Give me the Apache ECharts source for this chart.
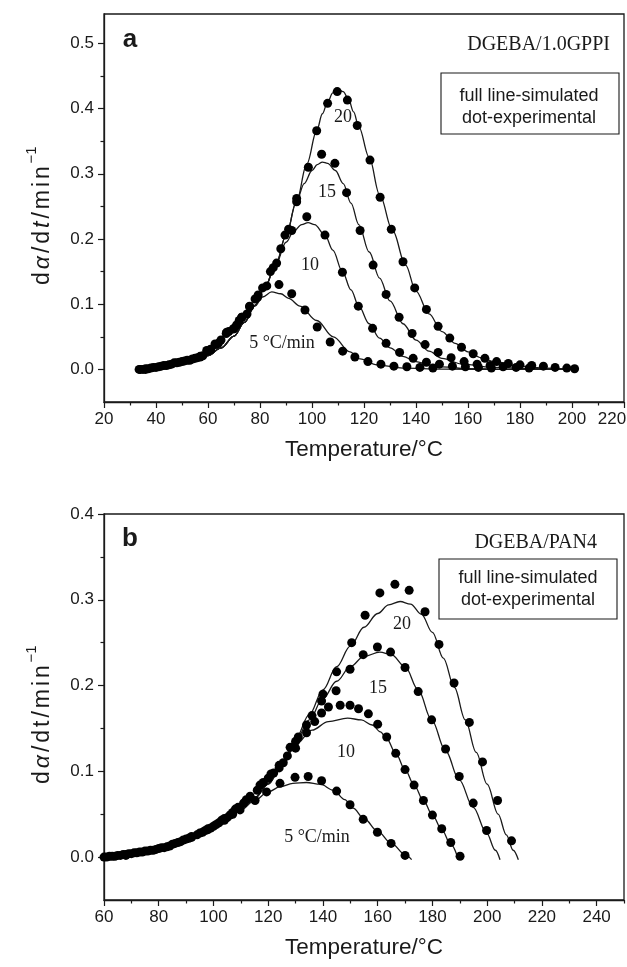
<!DOCTYPE html>
<html><head><meta charset="utf-8">
<script src="https://cdn.jsdelivr.net/npm/echarts@6/dist/echarts.min.js"></script>
<style>html,body{margin:0;padding:0;background:#fff}#c{width:627px;height:967px}</style>
</head><body><div id="c"></div>
<script>
// ---------- Panel a : DGEBA/1.0GPPI ----------
const xTicksA = [20,40,60,80,100,120,140,160,180,200,220];
const xMinorA = [30,50,70,90,110,130,150,170,190,210];
const yTicksA = [0,0.1,0.2,0.3,0.4,0.5];
const yMinorA = [0.05,0.15,0.25,0.35,0.45];

const simA5 = [[33,0],[40,0.003],[50,0.009],[60,0.021],[65,0.033],[70,0.051],[74,0.072],[78,0.097],[81,0.111],[84.5,0.119],[88,0.116],[91,0.109],[95.4,0.097],[101.8,0.075],[108.2,0.05],[114.6,0.027],[118.5,0.016],[125,0.007],[135,0.002],[150,0.0005],[175,0],[200,0]];
const simA10 = [[33,0],[40,0.003],[50,0.009],[60,0.021],[65,0.033],[70,0.051],[74,0.072],[78,0.098],[82,0.127],[86,0.160],[90,0.195],[93,0.212],[96,0.222],[98.5,0.225],[101,0.222],[105,0.206],[108,0.183],[111.7,0.150],[115,0.122],[118,0.097],[122,0.070],[126,0.048],[130,0.033],[135,0.020],[140,0.012],[145,0.007],[150,0.004],[160,0.001],[180,0],[200,0]];
const simA15 = [[33,0],[40,0.003],[50,0.009],[60,0.021],[65,0.033],[70,0.051],[74,0.072],[78,0.098],[82,0.127],[86,0.160],[90,0.205],[94,0.257],[97,0.285],[100,0.305],[102,0.314],[104,0.318],[106,0.316],[109,0.305],[112,0.285],[115,0.255],[118,0.222],[122,0.180],[126,0.140],[130,0.105],[135,0.070],[140,0.045],[145,0.028],[150,0.017],[158,0.008],[170,0.003],[185,0.001],[200,0]];
const simA20 = [[33,0],[40,0.003],[50,0.009],[60,0.021],[65,0.033],[70,0.051],[74,0.072],[78,0.098],[82,0.127],[86,0.160],[90,0.205],[94,0.257],[98,0.315],[101.8,0.366],[104,0.392],[106,0.410],[108,0.424],[110,0.429],[112,0.426],[114,0.415],[116,0.395],[118,0.372],[122,0.325],[126,0.268],[131,0.213],[136,0.160],[140,0.120],[145,0.085],[150,0.058],[155,0.040],[160,0.027],[165,0.018],[170,0.012],[180,0.005],[190,0.002],[200,0]];

const expA5 = [[33.5,0],[36,0],[39,0.003],[43,0.006],[46,0.008],[49,0.011],[52,0.014],[55,0.017],[58,0.021],[61,0.030],[64,0.040],[67,0.055],[70,0.063],[73,0.080],[76,0.096],[79,0.110],[82.6,0.128],[87.3,0.130],[92.2,0.116],[97.3,0.091],[102,0.065],[107,0.042],[111.8,0.028],[116.5,0.019],[121.5,0.012],[126.5,0.008],[131.5,0.005],[136.5,0.004],[141.5,0.003],[146.5,0.002]];
const expA10 = [[34,0],[37,0.001],[41,0.004],[45,0.007],[50,0.012],[54,0.016],[57,0.020],[60,0.028],[63,0.038],[68,0.058],[72,0.075],[76,0.097],[79.3,0.114],[85.1,0.156],[89.6,0.206],[92.2,0.213],[98,0.234],[105,0.206],[111.7,0.149],[117.8,0.097],[123.3,0.063],[128.5,0.040],[133.7,0.026],[138.9,0.017],[144,0.011],[149,0.008],[154,0.005],[159,0.004],[164,0.003],[169,0.002]];
const expA15 = [[35,0],[38,0.002],[42,0.005],[47,0.010],[51,0.013],[56,0.018],[59.5,0.029],[62.7,0.039],[67.2,0.057],[69.7,0.062],[73,0.080],[78.1,0.108],[86.4,0.163],[94.1,0.257],[98.6,0.310],[103.7,0.330],[108.8,0.316],[113.3,0.271],[118.5,0.213],[123.5,0.160],[128.5,0.115],[133.5,0.080],[138.5,0.055],[143.5,0.038],[148.5,0.026],[153.5,0.018],[158.5,0.012],[163.5,0.008],[168.5,0.006],[173.5,0.004],[178.5,0.003],[183.5,0.002]];
const expA20 = [[36,0.001],[40,0.003],[44,0.006],[48,0.010],[53,0.014],[57,0.019],[61,0.031],[65,0.045],[71,0.068],[75,0.085],[81,0.125],[84,0.150],[88,0.185],[91,0.215],[94.1,0.262],[101.8,0.366],[106,0.408],[109.7,0.426],[113.6,0.413],[117.4,0.374],[122.3,0.321],[126.2,0.264],[130.5,0.215],[135,0.165],[139.5,0.125],[144,0.092],[148.5,0.066],[153,0.048],[157.5,0.034],[162,0.024],[166.5,0.017],[171,0.012],[175.5,0.009],[180,0.007],[184.5,0.006],[189,0.005],[193.5,0.003],[198,0.002],[201,0.001]];

// ---------- Panel b : DGEBA/PAN4 ----------
const xTicksB = [60,80,100,120,140,160,180,200,220,240];
const xMinorB = [70,90,110,130,150,170,190,210,230,250];
const yTicksB = [0,0.1,0.2,0.3,0.4];
const yMinorB = [0.05,0.15,0.25,0.35];

const simB5 = [[60,0],[65,0.001],[70,0.003],[75,0.006],[80,0.009],[85,0.013],[90,0.019],[95,0.026],[100,0.034],[105,0.044],[110,0.055],[115,0.066],[120,0.076],[124.3,0.082],[129,0.086],[134,0.087],[139,0.085],[143.8,0.078],[148,0.067],[151,0.057],[155,0.045],[160,0.030],[165,0.016],[170,0.003],[172.4,-0.003]];
const simB10 = [[60,0],[65,0.001],[70,0.003],[75,0.006],[80,0.009],[85,0.013],[90,0.019],[95,0.026],[100,0.034],[105,0.044],[110,0.056],[115,0.068],[120,0.085],[125,0.106],[130,0.131],[136,0.148],[142,0.158],[149,0.162],[154,0.160],[158,0.154],[161,0.146],[163.3,0.138],[166.6,0.121],[170,0.102],[173.3,0.084],[176.7,0.066],[180,0.049],[183.4,0.032],[186.7,0.015],[189.5,-0.003]];
const simB15 = [[60,0],[65,0.001],[70,0.003],[75,0.006],[80,0.009],[85,0.013],[90,0.019],[95,0.026],[100,0.034],[105,0.044],[110,0.056],[115,0.069],[120,0.085],[125,0.108],[130,0.135],[135,0.160],[140,0.185],[145,0.205],[150,0.222],[155,0.234],[160.8,0.239],[165,0.236],[170,0.222],[174.8,0.195],[179.7,0.160],[184.8,0.124],[189.8,0.090],[194.9,0.058],[199.8,0.028],[203,0.008],[204.7,-0.003]];
const simB20 = [[60,0],[65,0.001],[70,0.003],[75,0.006],[80,0.009],[85,0.013],[90,0.019],[95,0.026],[100,0.034],[105,0.044],[110,0.056],[115,0.069],[120,0.086],[125,0.110],[130,0.138],[135,0.166],[140,0.195],[145,0.222],[150,0.246],[155,0.268],[160,0.284],[164,0.294],[168.2,0.298],[172,0.295],[176,0.283],[180,0.262],[184,0.232],[188,0.198],[192,0.160],[196,0.122],[200,0.085],[204,0.050],[207,0.026],[209.5,0.008],[211.4,-0.003]];

const expB5 = [[61,0],[63,0.001],[65,0.002],[68,0.003],[71,0.005],[74,0.006],[77,0.008],[80,0.010],[83,0.012],[86,0.016],[89,0.020],[92,0.024],[95,0.028],[98,0.033],[101,0.038],[104,0.045],[107,0.050],[109.7,0.055],[115.2,0.066],[119.4,0.076],[124.3,0.086],[129.8,0.093],[134.6,0.094],[139.5,0.089],[145,0.077],[149.9,0.061],[154.7,0.044],[159.9,0.029],[164.9,0.016],[170,0.002]];
const expB10 = [[62,0.001],[66,0.002],[69,0.004],[72,0.005],[76,0.007],[79,0.009],[84,0.013],[87,0.017],[90,0.021],[94,0.026],[97,0.031],[100,0.036],[103,0.043],[106,0.049],[109,0.058],[113.4,0.071],[118.2,0.087],[122,0.098],[125.5,0.110],[130,0.127],[134,0.145],[137,0.158],[139.5,0.168],[142,0.175],[146.3,0.177],[149.9,0.177],[153,0.173],[156.6,0.167],[160,0.155],[163.3,0.140],[166.6,0.121],[170,0.102],[173.3,0.084],[176.7,0.066],[180,0.049],[183.4,0.033],[186.7,0.017],[190.1,0.001]];
const expB15 = [[64,0.001],[67,0.003],[70,0.004],[73,0.006],[78,0.008],[82,0.011],[88,0.018],[91,0.022],[96,0.029],[99,0.034],[102,0.040],[105,0.046],[108,0.056],[111,0.063],[116,0.078],[120,0.092],[124,0.104],[127,0.118],[130,0.135],[134,0.154],[139.5,0.182],[144.8,0.194],[149.9,0.219],[154.7,0.236],[159.9,0.245],[164.7,0.239],[170,0.221],[174.8,0.193],[179.7,0.160],[184.8,0.126],[189.8,0.094],[194.9,0.063],[199.8,0.031]];
const expB20 = [[60,0],[68,0.002],[75,0.007],[81,0.011],[85,0.015],[92,0.023],[98,0.032],[104,0.043],[107,0.052],[112,0.067],[117,0.084],[121,0.097],[124,0.107],[128,0.128],[131,0.140],[136,0.165],[140,0.190],[145,0.216],[150.5,0.250],[155.4,0.282],[160.8,0.308],[166.3,0.318],[171.5,0.311],[177.3,0.286],[182.4,0.248],[187.9,0.203],[193.5,0.157],[198.3,0.111],[203.8,0.066],[208.9,0.019]];

const INK = '#1a1a1a';
const SANS = '"Liberation Sans", Arial, sans-serif';
const SERIF = '"Liberation Serif", "Times New Roman", serif';

function xAxes(gi, min, max, major, minor, name) {
  return [
    {type:'value', gridIndex:gi, min:min, max:max, position:'bottom',
     axisLine:{show:true, onZero:false, lineStyle:{color:INK, width:1.3}},
     axisTick:{show:true, inside:false, length:6, customValues:major, lineStyle:{color:INK, width:1.2}},
     axisLabel:{customValues:major, fontFamily:SANS, fontSize:17, color:INK, margin:9,
                formatter:v => (v === max ? '{p|' + v + '}' : String(v)),
                rich:{p:{fontFamily:SANS, fontSize:17, color:INK, padding:[0,24,0,0]}}},
     splitLine:{show:false},
     name:name, nameLocation:'middle', nameGap:36,
     nameTextStyle:{fontFamily:SANS, fontSize:22.5, color:INK}},
    {type:'value', gridIndex:gi, min:min, max:max, position:'bottom',
     axisLine:{show:false, onZero:false}, axisTick:{show:true, inside:false, length:3.5, customValues:minor, lineStyle:{color:INK, width:1.2}},
     axisLabel:{show:false}, splitLine:{show:false}}
  ];
}
const RS = {fontFamily:SANS, fontSize:23, color:INK, lineHeight:30, verticalAlign:'bottom', padding:[0,1.5,0,1.5]};
function yAxes(gi, min, max, major, minor, name) {
  return [
    {type:'value', gridIndex:gi, min:min, max:max, position:'left',
     axisLine:{show:true, onZero:false, lineStyle:{color:INK, width:1.3}},
     axisTick:{show:true, inside:false, length:6, customValues:major, lineStyle:{color:INK, width:1.2}},
     axisLabel:{customValues:major, fontFamily:SANS, fontSize:17, color:INK, margin:10,
                formatter:v => v.toFixed(1)},
     splitLine:{show:false},
     name:name, nameLocation:'middle', nameGap:50, nameRotate:90,
     nameTextStyle:{fontFamily:SANS, fontSize:23, color:INK,
       rich:{n:Object.assign({}, RS),
             i:Object.assign({}, RS, {fontStyle:'italic'}),
             s:{fontFamily:SANS, fontSize:15, color:INK, lineHeight:30, verticalAlign:'top', padding:[0,17,0,1]}}}},
    {type:'value', gridIndex:gi, min:min, max:max, position:'left',
     axisLine:{show:false, onZero:false}, axisTick:{show:true, inside:false, length:3.5, customValues:minor, lineStyle:{color:INK, width:1.2}},
     axisLabel:{show:false}, splitLine:{show:false}}
  ];
}

function lineS(data, xi, yi) {
  return {type:'line', data:data, xAxisIndex:xi, yAxisIndex:yi, showSymbol:false, symbol:'none',
          smooth:0.35, smoothMonotone:'x', lineStyle:{color:INK, width:1.3}, z:3, silent:true};
}
function dotS(data, xi, yi) {
  return {type:'scatter', data:data, xAxisIndex:xi, yAxisIndex:yi, symbol:'circle', symbolSize:9,
          itemStyle:{color:'#000', opacity:1}, z:4, silent:true};
}

function txt(x, y, text, font, align) {
  return {type:'text', x:x, y:y, z:10, style:{text:text, font:font, fill:INK,
          align:align||'center', verticalAlign:'middle', textAlign:align||'center', textVerticalAlign:'middle'}};
}
function box(x, y, w, h) {
  return {type:'rect', z:10, shape:{x:x, y:y, width:w, height:h}, style:{fill:'#fff', stroke:INK, lineWidth:1.1}};
}

const yNameA = '{n|d}{i|α}{n|/}{n|d}{i|t}{n|/}{n|m}{n|i}{n|n}{s|−1}';
const yNameB = '{n|d}{i|α}{n|/}{n|d}{n|t}{n|/}{n|m}{n|i}{n|n}{s|−1}';

const option = {
  backgroundColor:'#fff',
  animation:false,
  grid:[
    {left:104, top:14, width:520, height:388, show:true, borderColor:INK, borderWidth:1.3, backgroundColor:'transparent', containLabel:false, outerBoundsMode:'none'},
    {left:104, top:514, width:520, height:386, show:true, borderColor:INK, borderWidth:1.3, backgroundColor:'transparent', containLabel:false, outerBoundsMode:'none'}
  ],
  xAxis:[].concat(xAxes(0,20,220,xTicksA,xMinorA,'Temperature/°C'), xAxes(1,60,250,xTicksB,xMinorB,'Temperature/°C')),
  yAxis:[].concat(yAxes(0,-0.05,0.545,yTicksA,yMinorA,yNameA), yAxes(1,-0.05,0.4,yTicksB,yMinorB,yNameB)),
  series:[
    lineS(simA5,0,0), lineS(simA10,0,0), lineS(simA15,0,0), lineS(simA20,0,0),
    dotS(expA5,0,0), dotS(expA10,0,0), dotS(expA15,0,0), dotS(expA20,0,0),
    lineS(simB5,2,2), lineS(simB10,2,2), lineS(simB15,2,2), lineS(simB20,2,2),
    dotS(expB5,2,2), dotS(expB10,2,2), dotS(expB15,2,2), dotS(expB20,2,2)
  ],
  graphic:[
    txt(130,40,'a','bold 26px ' + SANS),
    txt(610,45,'DGEBA/1.0GPPI','20px ' + SERIF,'right'),
    box(441,73,178,61),
    txt(529,96,'full line-simulated','18px ' + SANS),
    txt(529,118,'dot-experimental','18px ' + SANS),
    txt(343,117,'20','18px ' + SERIF),
    txt(327,192,'15','18px ' + SERIF),
    txt(310,265,'10','18px ' + SERIF),
    txt(282,343,'5 °C/min','18px ' + SERIF),

    txt(130,539,'b','bold 26px ' + SANS),
    txt(597,543,'DGEBA/PAN4','20px ' + SERIF,'right'),
    box(439,559,178,60),
    txt(528,578,'full line-simulated','18px ' + SANS),
    txt(528,600,'dot-experimental','18px ' + SANS),
    txt(402,624,'20','18px ' + SERIF),
    txt(378,688,'15','18px ' + SERIF),
    txt(346,752,'10','18px ' + SERIF),
    txt(317,837,'5 °C/min','18px ' + SERIF)
  ]
};
const chart = echarts.init(document.getElementById('c'), null, {renderer:'canvas'});
chart.setOption(option);
</script></body></html>
